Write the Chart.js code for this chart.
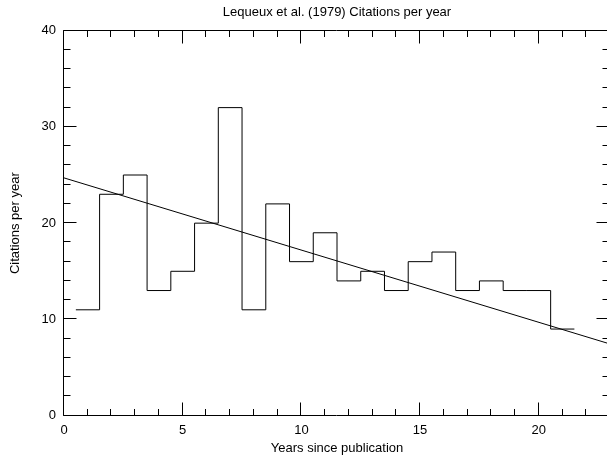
<!DOCTYPE html>
<html>
<head>
<meta charset="utf-8">
<script src="https://cdn.jsdelivr.net/npm/chart.js@4"></script>
<style>
  html, body { margin: 0; padding: 0; background: #fff; overflow: hidden; }
  #wrap { width: 612px; height: 459px; }
</style>
</head>
<body>
<div id="wrap"><canvas id="chart"></canvas></div>
<script>
// citations per year since publication (histogram bins centred on whole years)
var years = [1, 2, 3, 4, 5, 6, 7, 8, 9, 10, 11, 12, 13, 14, 15, 16, 17, 18, 19, 20, 21];
var citations = [11, 23, 25, 13, 15, 20, 32, 11, 22, 16, 19, 14, 15, 13, 16, 17, 13, 14, 13, 13, 9];

// straight-line fit, read at the two ends of the x axis
var fitX = [0, 23];
var fitY = [24.7, 7.45];

var xTicks = [0, 5, 10, 15, 20];
var yTicks = [0, 10, 20, 30, 40];

Chart.defaults.font.family = "'Liberation Sans', Arial, sans-serif";
Chart.defaults.font.size = 13;
Chart.defaults.color = '#000';

// step outline: every bin runs from year-0.5 to year+0.5
var steps = years.map(function (y, i) { return { x: y - 0.5, y: citations[i] }; });
steps.push({ x: years[years.length - 1] + 0.5, y: citations[citations.length - 1] });

var fitLine = fitX.map(function (x, i) { return { x: x, y: fitY[i] }; });

// frame and inward tick marks, drawn on all four sides
var framePlugin = {
  id: 'frame',
  afterDraw: function (chart) {
    var c = chart.ctx, a = chart.chartArea;
    var xs = chart.scales.x, ys = chart.scales.y;
    var L = Math.round(a.left) - 0.5, R = Math.round(a.right) - 0.5;
    var T = Math.round(a.top) - 0.5, B = Math.round(a.bottom) - 0.5;
    c.save();
    c.strokeStyle = '#000';
    c.lineWidth = 1;
    c.beginPath();
    c.rect(L, T, R - L, B - T);
    var v, p, len;
    for (v = 0; v <= 23; v++) {
      p = Math.round(xs.getPixelForValue(v)) - 0.5;
      len = v % 5 === 0 ? 13 : 6.5;
      c.moveTo(p, B); c.lineTo(p, B - len);
      c.moveTo(p, T); c.lineTo(p, T + len);
    }
    for (v = 0; v <= 40; v += 2) {
      p = Math.round(ys.getPixelForValue(v)) - 0.5;
      len = v % 10 === 0 ? 13 : 7;
      c.moveTo(L, p); c.lineTo(L + len, p);
      c.moveTo(R, p); c.lineTo(R - len, p);
    }
    c.stroke();
    c.restore();
  }
};

new Chart(document.getElementById('chart'), {
  type: 'line',
  data: {
    datasets: [
      {
        label: 'Citations',
        data: steps,
        stepped: 'before',
        borderColor: '#000',
        borderWidth: 1,
        pointRadius: 0,
        fill: false
      },
      {
        label: 'Fit',
        data: fitLine,
        borderColor: '#000',
        borderWidth: 1,
        pointRadius: 0,
        fill: false
      }
    ]
  },
  options: {
    responsive: true,
    maintainAspectRatio: false,
    devicePixelRatio: 1,
    animation: false,
    layout: { padding: { left: 0, right: 2, top: 0, bottom: 0 } },
    plugins: {
      legend: { display: false },
      tooltip: { enabled: false },
      title: {
        display: true,
        fullSize: false,
        text: 'Lequeux et al. (1979) Citations per year',
        font: { size: 13, weight: 'normal' },
        color: '#000',
        padding: { top: 5, bottom: 10 }
      }
    },
    scales: {
      x: {
        type: 'linear',
        min: 0,
        max: 23,
        afterBuildTicks: function (s) { s.ticks = xTicks.map(function (v) { return { value: v }; }); },
        afterFit: function (s) { s.height = 43.3; },
        grid: { display: true, drawOnChartArea: false, drawTicks: false },
        border: { display: false },
        ticks: { padding: 7, maxRotation: 0, autoSkip: false, color: '#000' },
        title: {
          display: true,
          text: 'Years since publication',
          color: '#000',
          padding: { top: 0, bottom: 3 }
        }
      },
      y: {
        type: 'linear',
        min: 0,
        max: 40,
        afterBuildTicks: function (s) { s.ticks = yTicks.map(function (v) { return { value: v }; }); },
        afterFit: function (s) { s.width = 64; },
        grid: { display: true, drawOnChartArea: false, drawTicks: false },
        border: { display: false },
        ticks: { padding: 8, color: '#000' },
        title: {
          display: true,
          text: 'Citations per year',
          color: '#000',
          padding: { top: 8, bottom: 0 }
        }
      }
    }
  },
  plugins: [framePlugin]
});
</script>
</body>
</html>
